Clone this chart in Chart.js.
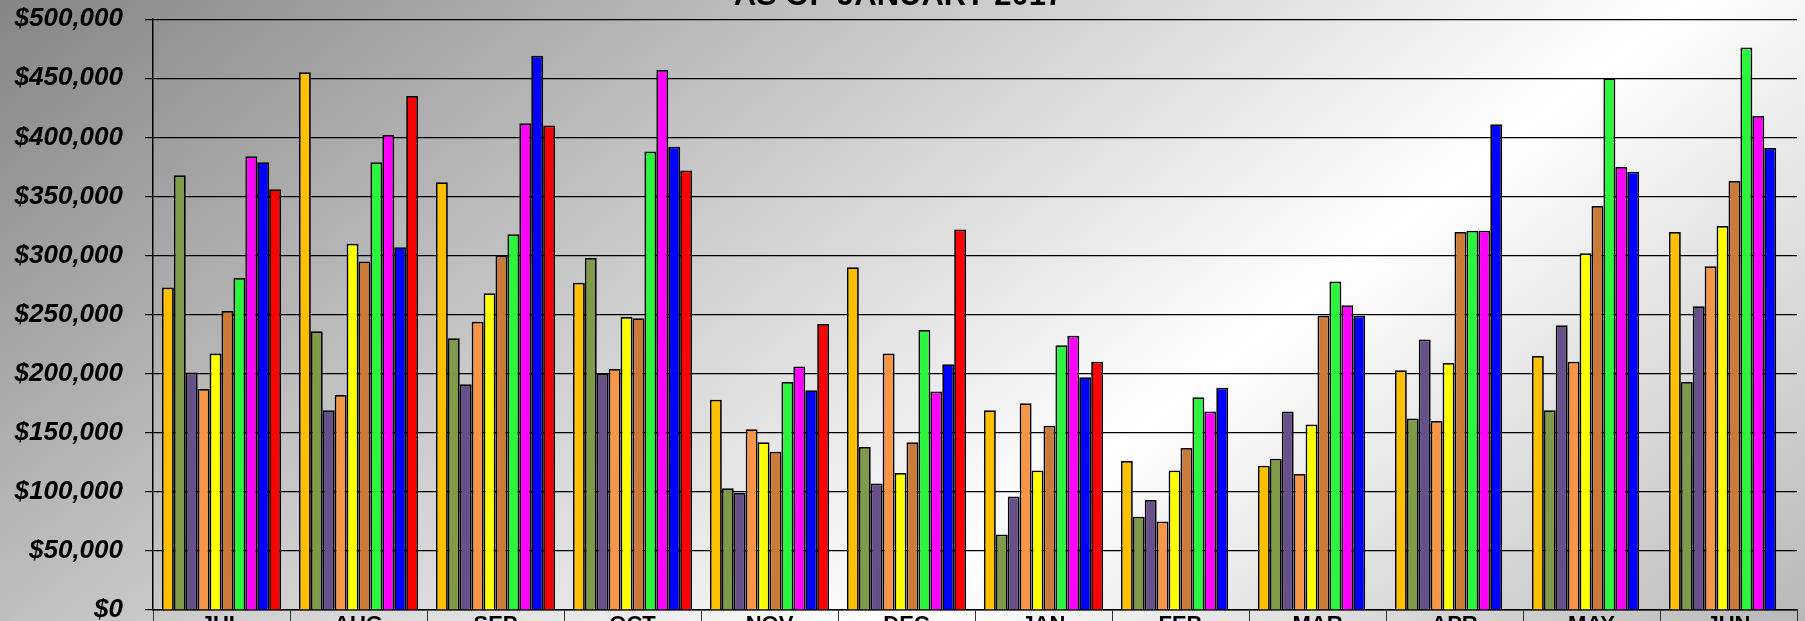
<!DOCTYPE html>
<html>
<head>
<title>MONTHLY TOTALS AS OF JANUARY 2017</title>
<style>
  html, body {
    margin: 0;
    padding: 0;
    width: 1805px;
    height: 621px;
    overflow: hidden;
    background: linear-gradient(142deg, #858585 0%, #ffffff 65%, #b8b8b8 100%);
  }
  .chart-container {
    position: absolute;
    left: 0;
    top: -40px;
    width: 1805px;
    height: 700px;
  }
</style>
</head>
<body>
<div class="chart-container">
<canvas id="mycanvas"></canvas>
</div>

<script src="https://cdn.jsdelivr.net/npm/chart.js@4.4.0/dist/chart.umd.min.js"></script>
<script>
// months of the fiscal year
var months = ["JUL", "AUG", "SEP", "OCT", "NOV", "DEC", "JAN", "FEB", "MAR", "APR", "MAY", "JUN"];

// one array per fiscal year
var fy2008 = [273000, 455000, 362000, 277000, 178000, 290000, 169000, 126000, 122000, 203000, 215000, 320000];
var fy2009 = [368000, 236000, 230000, 298000, 103000, 138000, 64000, 79000, 128000, 162000, 169000, 193000];
var fy2010 = [201000, 169000, 191000, 200000, 99000, 107000, 96000, 93000, 168000, 229000, 241000, 257000];
var fy2011 = [187000, 182000, 244000, 204000, 153000, 217000, 175000, 75000, 115000, 160000, 210000, 291000];
var fy2012 = [217000, 310000, 268000, 248000, 142000, 116000, 118000, 118000, 157000, 209000, 302000, 325000];
var fy2013 = [253000, 295000, 300000, 247000, 134000, 142000, 156000, 137000, 249000, 320000, 342000, 363000];
var fy2014 = [281000, 379000, 318000, 388000, 193000, 237000, 224000, 180000, 278000, 321000, 450000, 476000];
var fy2015 = [384000, 402000, 412000, 457000, 206000, 185000, 232000, 168000, 258000, 321000, 375000, 418000];
var fy2016 = [379000, 307000, 469000, 392000, 186000, 208000, 197000, 188000, 249000, 411000, 371000, 391000];
var fy2017 = [356000, 435000, 410000, 372000, 242000, 322000, 210000, null, null, null, null, null];

var seriesNames = ["FY 2007-08", "FY 2008-09", "FY 2009-10", "FY 2010-11", "FY 2011-12",
                   "FY 2012-13", "FY 2013-14", "FY 2014-15", "FY 2015-16", "FY 2016-17"];
var seriesData = [fy2008, fy2009, fy2010, fy2011, fy2012, fy2013, fy2014, fy2015, fy2016, fy2017];
var seriesColors = ["#FFC000", "#7F9A48", "#67508A", "#F79646", "#FFFF00",
                    "#CC7A38", "#2BF53D", "#FF00FF", "#0000FF", "#FF0000"];

var datasets = [];
for (var i in seriesData) {
  datasets.push({
    label: seriesNames[i],
    data: seriesData[i],
    backgroundColor: seriesColors[i],
    borderColor: "#000000",
    borderWidth: 1.75,
    categoryPercentage: 0.87,
    barPercentage: 1.0
  });
}

var font = "'Liberation Sans', Arial, sans-serif";

var ctx = document.getElementById("mycanvas");
var BarGraph = new Chart(ctx, {
  type: 'bar',
  data: {
    labels: months,
    datasets: datasets
  },
  options: {
    responsive: true,
    maintainAspectRatio: false,
    animation: false,
    layout: {
      padding: { left: 0, right: 8, top: 0, bottom: 0 }
    },
    plugins: {
      legend: { display: false },
      tooltip: { enabled: false },
      title: {
        display: true,
        text: "AS OF JANUARY 2017",
        color: "#000000",
        font: { family: font, size: 31, weight: 'bold' },
        padding: { top: 18, bottom: 4 }
      }
    },
    scales: {
      x: {
        afterFit: function(scale) { scale.height = 50; },
        border: { display: true, color: "#000000", width: 1.5 },
        grid: {
          display: true,
          offset: true,
          drawOnChartArea: false,
          drawTicks: true,
          tickLength: 30,
          color: "#333333"
        },
        ticks: {
          padding: -28,
          color: "#000000",
          font: { family: font, size: 22, weight: 'bold' }
        }
      },
      y: {
        min: 0,
        max: 500000,
        afterFit: function(scale) { scale.width = 153; },
        border: { display: true, color: "#000000", width: 1.5 },
        grid: {
          color: "#000000",
          lineWidth: 1.2,
          tickLength: 8
        },
        ticks: {
          stepSize: 50000,
          padding: 22,
          color: "#000000",
          font: { family: font, size: 26, weight: 'bold', style: 'italic' },
          callback: function(value) {
            return "$" + value.toLocaleString("en-US");
          }
        }
      }
    }
  }
});
</script>
</body>
</html>
